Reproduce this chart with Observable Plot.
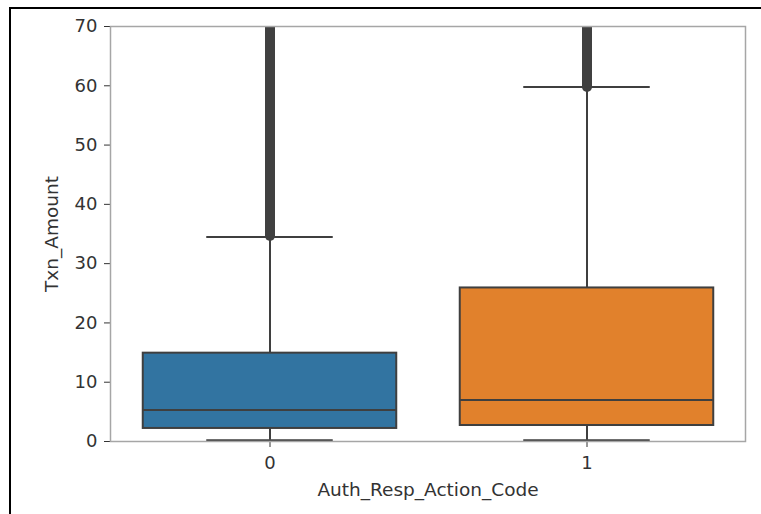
<!DOCTYPE html>
<html>
<head>
<meta charset="utf-8">
<script src="https://cdn.jsdelivr.net/npm/d3@7"></script>
<script src="https://cdn.jsdelivr.net/npm/@observablehq/plot@0.6"></script>
<style>
  html, body { margin: 0; padding: 0; background: #fff; }
  #wrap { position: relative; width: 761px; height: 514px; overflow: hidden; }
  #frame { position: absolute; left: 9px; top: 7px; right: -10px; bottom: -10px;
           border-left: 2px solid #000; border-top: 2px solid #000; pointer-events: none; }
  #chart svg { display: block; }
</style>
</head>
<body>
<div id="wrap"><div id="chart"></div><div id="frame"></div></div>
<script>
// Categories (Auth_Resp_Action_Code)
const categories = ["0", "1"];
// Box statistics of Txn_Amount
const whiskerLow  = [0.2, 0.2];
const q1          = [2.2, 2.7];
const median      = [5.3, 7.0];
const q3          = [14.9, 25.9];
const whiskerHigh = [34.5, 59.8];
// Outlier (flier) range visible in the chart (continues beyond the 70 limit)
const outlierLow  = [34.6, 59.7];
const outlierHigh = [70, 70];
const boxColors   = ["#3274a1", "#e1812c"];
const yTicks      = [0, 10, 20, 30, 40, 50, 60, 70];
const xLabel = "Auth_Resp_Action_Code";
const yLabel = "Txn_Amount";

const rows = categories.map((c, i) => ({
  cat: c, lo: whiskerLow[i], q1: q1[i], med: median[i], q3: q3[i],
  hi: whiskerHigh[i], oLo: outlierLow[i], oHi: outlierHigh[i]
}));

const W = 761, H = 514;
const mL = 110, mR = 16, mT = 26, mB = 73;
const band = (W - mL - mR) / categories.length;
const boxInset = band * 0.1;
const capInset = band * 0.3;
const edge = "#3f3f3f";

const chart = Plot.plot({
  width: W, height: H,
  marginLeft: mL, marginRight: mR, marginTop: mT, marginBottom: mB,
  style: { fontFamily: "DejaVu Sans", fontSize: "18px", color: "#333", background: "transparent" },
  x: { type: "band", domain: categories, padding: 0, label: null, tickSize: 6, tickPadding: 9 },
  y: { domain: [0, 70], ticks: yTicks, label: null, tickSize: 6, tickPadding: 7 },
  color: { domain: categories, range: boxColors },
  marks: [
    // outliers (dense fliers)
    Plot.ruleX(rows, { x: "cat", y1: "oLo", y2: "oHi", stroke: "#404040", strokeWidth: 10,
                       strokeLinecap: "round", clip: true }),
    // whiskers
    Plot.ruleX(rows, { x: "cat", y1: "lo", y2: "q1", stroke: edge, strokeWidth: 2 }),
    Plot.ruleX(rows, { x: "cat", y1: "q3", y2: "hi", stroke: edge, strokeWidth: 2 }),
    // caps
    Plot.tickY(rows, { x: "cat", y: "lo", stroke: edge, strokeWidth: 2, insetLeft: capInset, insetRight: capInset }),
    Plot.tickY(rows, { x: "cat", y: "hi", stroke: edge, strokeWidth: 2, insetLeft: capInset, insetRight: capInset }),
    // boxes
    Plot.barY(rows, { x: "cat", y1: "q1", y2: "q3", fill: "cat", stroke: edge, strokeWidth: 2,
                      insetLeft: boxInset, insetRight: boxInset }),
    // medians
    Plot.tickY(rows, { x: "cat", y: "med", stroke: edge, strokeWidth: 2, insetLeft: boxInset, insetRight: boxInset }),
    Plot.frame({ stroke: "#a6a6a6", strokeWidth: 1.5 }),
    Plot.text([xLabel], { text: d => d, frameAnchor: "bottom", textAnchor: "middle", dy: 54, fontSize: 18.5, fill: "#333" }),
    Plot.text([yLabel], { text: d => d, frameAnchor: "left", textAnchor: "middle", dx: -58, rotate: -90, fontSize: 18.5, fill: "#333" })
  ]
});
document.getElementById("chart").appendChild(chart);
</script>
</body>
</html>
